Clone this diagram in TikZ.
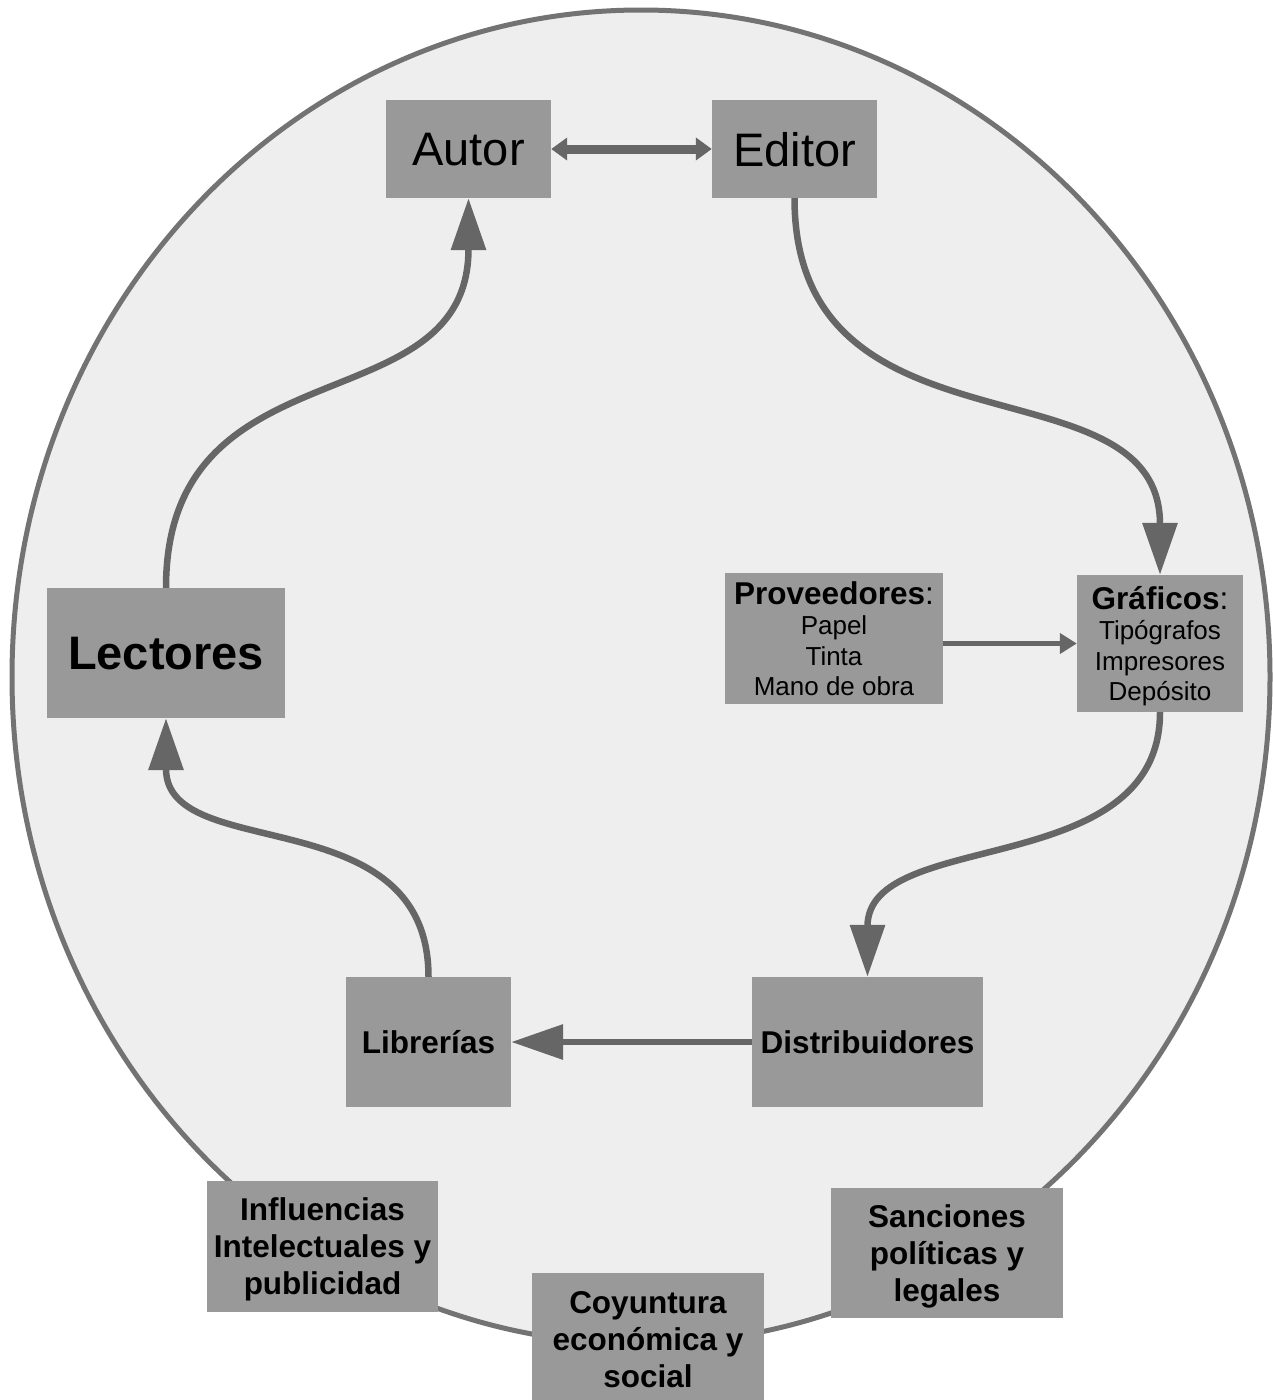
\documentclass[tikz,border=0pt]{standalone}
\usepackage{fontspec}
\setmainfont{Liberation Sans}
\usetikzlibrary{positioning, arrows.meta}

\definecolor{boxgray}{HTML}{999999}
\definecolor{arrowgray}{HTML}{666666}
\definecolor{ringgray}{HTML}{737373}
\definecolor{ringfill}{HTML}{EEEEEE}

\begin{document}
\begin{tikzpicture}[x=1pt, y=-1pt,
		box/.style={rectangle, fill=boxgray, inner sep=2pt, align=center, text depth=-3pt},
		bigtext/.style={font=\fontsize{47}{52}\selectfont},
		boldtext/.style={font=\bfseries\fontsize{31.5}{37}\selectfont},
		smalltext/.style={font=\fontsize{26}{30.5}\selectfont},
		flow/.style={draw=arrowgray, line width=6.5pt, -{Triangle[length=52pt, width=34pt]}},
		thin flow/.style={draw=arrowgray, line width=5pt, -{Triangle[length=17pt, width=20pt]}},
		both flow/.style={draw=arrowgray, line width=9pt, {Triangle[length=16pt, width=22pt]}-{Triangle[length=16pt, width=22pt]}}]
		\useasboundingbox (0,0) rectangle (1273,1400);
		
		% the ring round the circuit
		\draw [draw=ringgray, fill=ringfill, line width=5pt] (641,677) ellipse [x radius=629, y radius=667];
		
		\node [box, bigtext, minimum width=165pt, minimum height=98pt] (autor) at (468.5,149) {Autor};
		\node [box, bigtext, minimum width=165pt, minimum height=98pt] (editor) at (794.5,149) {Editor};
		\node [box, bigtext, font=\bfseries\fontsize{47}{52}\selectfont, minimum width=238pt, minimum height=130pt] (lectores) at (166,653) {Lectores};
		\node [box, smalltext, minimum width=218pt, minimum height=131pt] (proveedores) at (834,638.5) {{\fontsize{31.5}{37}\selectfont\textbf{Proveedores}:}\\Papel\\Tinta\\Mano de obra};
		\node [box, smalltext, minimum width=166pt, minimum height=137pt] (graficos) at (1160,643.5) {{\fontsize{31.5}{37}\selectfont\textbf{Gráficos}:}\\Tipógrafos\\Impresores\\Depósito};
		\node [box, boldtext, minimum width=165pt, minimum height=130pt] (librerias) at (428.5,1042) {Librerías};
		\node [box, boldtext, minimum width=231pt, minimum height=130pt] (distribuidores) at (867.5,1042) {Distribuidores};
		
		% outer influences
		\node [box, boldtext, minimum width=231pt, minimum height=131pt] (influencias) at (322.5,1246.5) {Influencias\\Intelectuales y\\publicidad};
		\node [box, boldtext, minimum width=232pt, minimum height=132pt] (coyuntura) at (648,1339) {Coyuntura\\económica y\\social};
		\node [box, boldtext, minimum width=232pt, minimum height=130pt] (sanciones) at (947,1253) {Sanciones\\políticas y\\legales};
		
		\draw [both flow] (autor) -- (editor);
		\draw [flow] (editor.south) .. controls +(0,270) and +(0,-221) .. (graficos.north);
		\draw [flow] (graficos.south) .. controls +(0,170) and +(0,-150) .. (distribuidores.north);
		\draw [flow] (distribuidores) -- (librerias);
		\draw [flow] (librerias.north) .. controls +(0,-180) and +(0,147) .. (lectores.south);
		\draw [flow] (lectores.north) .. controls +(0,-250) and +(0,230) .. (autor.south);
		\draw [thin flow] (graficos.west -| proveedores.east) -- (graficos.west);
	\end{tikzpicture}
\end{document}
